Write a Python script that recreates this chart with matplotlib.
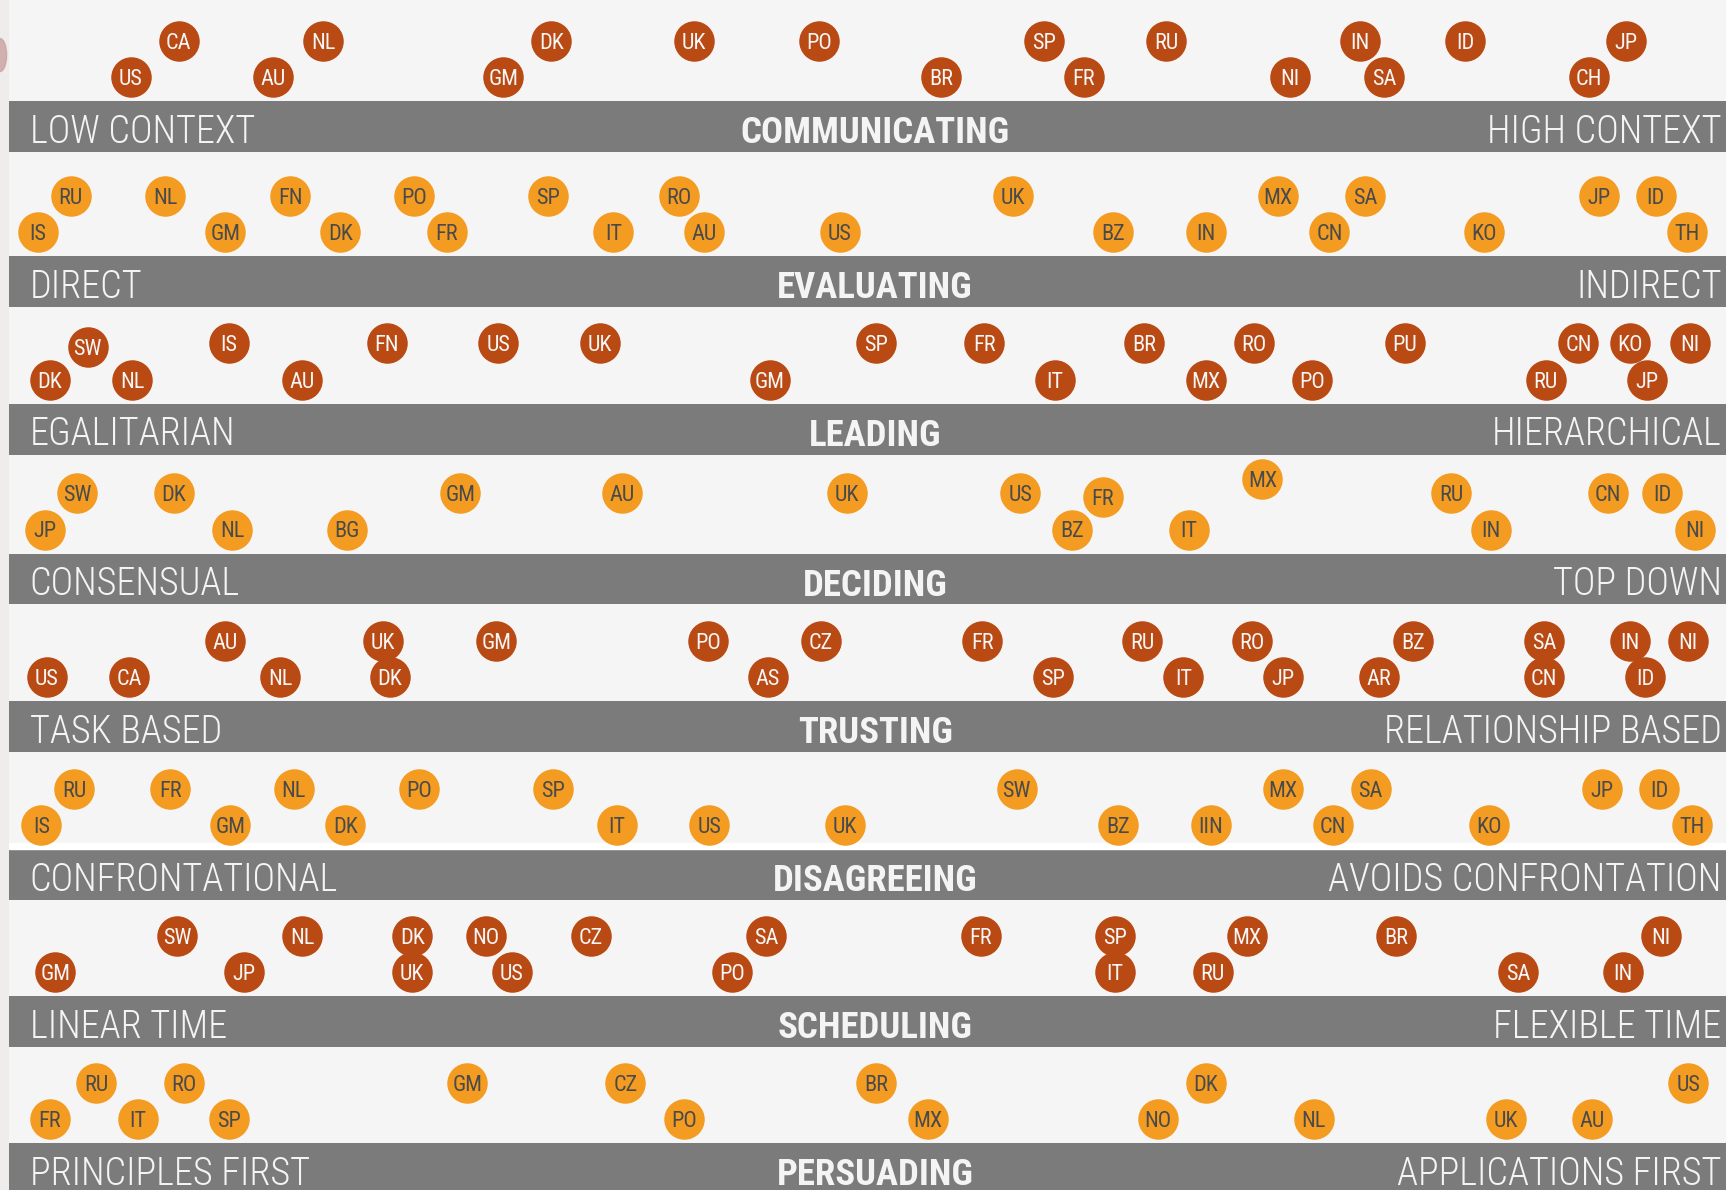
import matplotlib
matplotlib.use('Agg')
import matplotlib.pyplot as plt
from matplotlib.patches import Ellipse

FONT = ['Roboto Condensed', 'Liberation Sans', 'DejaVu Sans']

# ---- data: position on each scale (0 = left end, 100 = right end) ----
dims = ['COMMUNICATING', 'EVALUATING', 'LEADING', 'DECIDING',
        'TRUSTING', 'DISAGREEING', 'SCHEDULING', 'PERSUADING']
left_labels = ['LOW CONTEXT', 'DIRECT', 'EGALITARIAN', 'CONSENSUAL',
               'TASK BASED', 'CONFRONTATIONAL', 'LINEAR TIME', 'PRINCIPLES FIRST']
right_labels = ['HIGH CONTEXT', 'INDIRECT', 'HIERARCHICAL', 'TOP DOWN',
                'RELATIONSHIP BASED', 'AVOIDS CONFRONTATION', 'FLEXIBLE TIME',
                'APPLICATIONS FIRST']

# each entry: (country, score, row)   row 0 = upper, 1 = lower
communicating = [('CA', 9.9, 0), ('NL', 18.3, 0), ('DK', 31.6, 0), ('UK', 39.9, 0),
                 ('PO', 47.2, 0), ('SP', 60.3, 0), ('RU', 67.4, 0), ('IN', 78.7, 0),
                 ('ID', 84.8, 0), ('JP', 94.2, 0),
                 ('US', 7.1, 1), ('AU', 15.4, 1), ('GM', 28.8, 1), ('BR', 54.3, 1),
                 ('FR', 62.6, 1), ('NI', 74.6, 1), ('SA', 80.1, 1), ('CH', 92.0, 1)]
evaluating = [('RU', 3.6, 0), ('NL', 9.1, 0), ('FN', 16.4, 0), ('PO', 23.6, 0),
              ('SP', 31.4, 0), ('RO', 39.0, 0), ('UK', 58.5, 0), ('MX', 73.9, 0),
              ('SA', 79.0, 0), ('JP', 92.6, 0), ('ID', 95.9, 0),
              ('IS', 1.7, 1), ('GM', 12.6, 1), ('DK', 19.3, 1), ('FR', 25.5, 1),
              ('IT', 35.2, 1), ('AU', 40.5, 1), ('US', 48.4, 1), ('BZ', 64.3, 1),
              ('IN', 69.7, 1), ('CN', 76.9, 1), ('KO', 85.9, 1), ('TH', 97.7, 1)]
leading = [('SW', 4.6, 0.1), ('IS', 12.8, 0), ('FN', 22.0, 0), ('US', 28.5, 0),
           ('UK', 34.4, 0), ('SP', 50.5, 0), ('FR', 56.8, 0), ('BR', 66.1, 0),
           ('RO', 72.5, 0), ('PU', 81.3, 0), ('CN', 91.4, 0), ('KO', 94.4, 0),
           ('NI', 97.9, 0),
           ('DK', 2.4, 1), ('NL', 7.2, 1), ('AU', 17.1, 1), ('GM', 44.3, 1),
           ('IT', 60.9, 1), ('MX', 69.7, 1), ('PO', 75.9, 1), ('RU', 89.5, 1),
           ('JP', 95.4, 1)]
deciding = [('SW', 4.0, 0), ('DK', 9.6, 0), ('GM', 26.3, 0), ('AU', 35.7, 0),
            ('UK', 48.8, 0), ('US', 58.9, 0), ('FR', 63.7, 0.1), ('MX', 73.0, -0.4),
            ('RU', 84.0, 0), ('CN', 93.1, 0), ('ID', 96.3, 0),
            ('JP', 2.1, 1), ('NL', 13.0, 1), ('BG', 19.7, 1), ('BZ', 61.9, 1),
            ('IT', 68.7, 1), ('IN', 86.3, 1), ('NI', 98.2, 1)]
trusting = [('AU', 12.6, 0), ('UK', 21.8, 0), ('GM', 28.4, 0), ('PO', 40.7, 0),
            ('CZ', 47.3, 0), ('FR', 56.7, 0), ('RU', 66.0, 0), ('RO', 72.4, 0),
            ('BZ', 81.8, 0), ('SA', 89.4, 0), ('IN', 94.4, 0), ('NI', 97.8, 0),
            ('US', 2.2, 1), ('CA', 7.0, 1), ('NL', 15.8, 1), ('DK', 22.2, 1),
            ('AS', 44.2, 1), ('SP', 60.8, 1), ('IT', 68.4, 1), ('JP', 74.2, 1),
            ('AR', 79.8, 1), ('CN', 89.4, 1), ('ID', 95.3, 1)]
disagreeing = [('RU', 3.8, 0), ('FR', 9.4, 0), ('NL', 16.6, 0), ('PO', 23.9, 0),
               ('SP', 31.7, 0), ('SW', 58.7, 0), ('MX', 74.2, 0), ('SA', 79.3, 0),
               ('JP', 92.8, 0), ('ID', 96.1, 0),
               ('IS', 1.9, 1), ('GM', 12.9, 1), ('DK', 19.6, 1), ('IT', 35.4, 1),
               ('US', 40.8, 1), ('UK', 48.7, 1), ('BZ', 64.6, 1), ('IIN', 70.0, 1),
               ('CN', 77.1, 1), ('KO', 86.2, 1), ('TH', 98.0, 1)]
scheduling = [('SW', 9.8, 0), ('NL', 17.1, 0), ('DK', 23.5, 0), ('NO', 27.8, 0),
              ('CZ', 33.9, 0), ('SA', 44.1, 0), ('FR', 56.6, 0), ('SP', 64.4, 0),
              ('MX', 72.1, 0), ('BR', 80.8, 0), ('NI', 96.2, 0),
              ('GM', 2.7, 1), ('JP', 13.7, 1), ('UK', 23.5, 1), ('US', 29.3, 1),
              ('PO', 42.1, 1), ('IT', 64.4, 1), ('RU', 70.1, 1), ('SA', 87.9, 1),
              ('IN', 94.0, 1)]
persuading = [('RU', 5.1, 0), ('RO', 10.2, 0), ('GM', 26.7, 0), ('CZ', 35.9, 0),
              ('BR', 50.5, 0), ('DK', 69.7, 0), ('US', 97.8, 0),
              ('FR', 2.4, 1), ('IT', 7.5, 1), ('SP', 12.8, 1), ('PO', 39.3, 1),
              ('MX', 53.5, 1), ('NO', 66.9, 1), ('NL', 76.0, 1), ('UK', 87.2, 1),
              ('AU', 92.2, 1)]
countries = [communicating, evaluating, leading, deciding,
             trusting, disagreeing, scheduling, persuading]

# ---- layout (display units, image is 1568 x 1081) ----
W, H = 1568, 1081
x0 = 8
bar_tops = [92, 233, 367, 503, 637, 771.5, 905, 1038.6]
bar_h = 46
dark = '#b94a13'
light = '#f39c21'
bar_col = '#7b7b7b'

fig = plt.figure(figsize=(17.26, 11.90), dpi=100)
fig.patch.set_facecolor('#eeedeb')
# little reddish smudge on the left edge, as in the source image
fig.patches.append(Ellipse((0.0, 1 - 50 / H), 12 / W, 30 / H, transform=fig.transFigure,
                           color='#c9a2a2', alpha=0.8))
ax = fig.add_axes([x0 / W, 0, (W - x0) / W, 1])
ax.set_xlim(0, 100)
ax.set_ylim(H, 0)
ax.axis('off')
ax.add_patch(plt.Rectangle((0, 0), 1, 1, transform=ax.transAxes,
                           color='#f5f5f5', zorder=0))

# display-x -> score units, for label placement
sx = 100 / (W - x0)

for i, dim in enumerate(dims):
    top = bar_tops[i]
    ax.barh(top + bar_h / 2, 100, height=bar_h, left=0, color=bar_col, zorder=1)
    ax.text(19 * sx, top + 37.5, left_labels[i], ha='left', va='baseline',
            fontsize=27.5, color='#f4f4f4', family=FONT, fontweight=300, zorder=2)
    ax.text(100 - 4 * sx, top + 37.5, right_labels[i], ha='right', va='baseline',
            fontsize=27.5, color='#f4f4f4', family=FONT, fontweight=300, zorder=2)
    ax.text((795 - x0) * sx, top + 38, dim, ha='center', va='baseline',
            fontsize=26.5, color='#f4f4f4', family=FONT, fontweight='bold', zorder=2)

    fc = dark if i % 2 == 0 else light
    tc = '#f6f6f6' if i % 2 == 0 else '#4a4a4a'
    data = countries[i]
    xs = [d[1] for d in data]
    ys = [top - 55 + 33 * d[2] for d in data]
    ax.scatter(xs, ys, s=850, color=fc, linewidths=0, zorder=3)
    for (code, xv, row), yv in zip(data, ys):
        ax.text(xv, yv + 7.2, code, ha='center', va='baseline', fontsize=16,
                color=tc, family=FONT, fontweight=400, zorder=4)

# thin white line above the DISAGREEING bar
ax.axhspan(766, 771.5, color='white', zorder=1)

fig.savefig('out.png', dpi=100, facecolor=fig.get_facecolor())
